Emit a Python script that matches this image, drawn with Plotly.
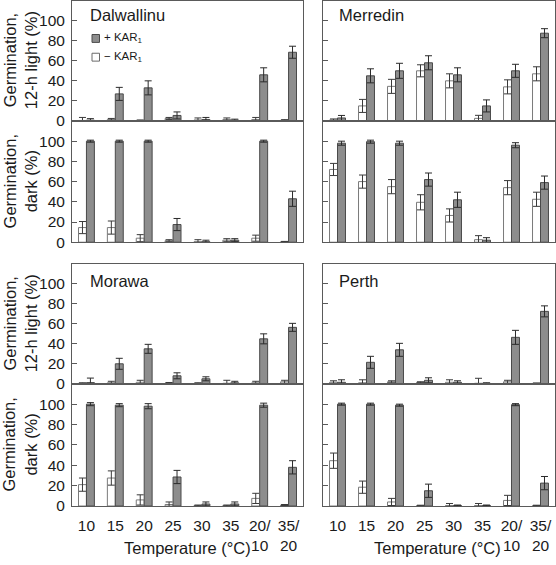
import plotly.graph_objects as go

temps = ["10", "15", "20", "25", "30", "35", "20/10", "35/20"]
tick_text = ["10", "15", "20", "25", "30", "35", "20/<br>10", "35/<br>20"]
y_ticks = [0, 20, 40, 60, 80, 100]

# Dalwallinu
dal_light_minus = [0.5, 1.5, 0.5, 2.5, 1, 1.5, 1.5, 0.8]
dal_light_minus_err = [3, 1, 0.5, 1, 2, 1.5, 2, 0.5]
dal_light_plus = [0.8, 27, 33, 5.5, 1.5, 0.8, 46, 68.5]
dal_light_plus_err = [1.5, 6.5, 7, 3.5, 2, 1, 7, 6]
dal_dark_minus = [14.5, 14.5, 4, 1.5, 0.5, 2, 4, 0.5]
dal_dark_minus_err = [6, 6.5, 3.5, 1, 2, 1.5, 3, 0.3]
dal_dark_plus = [100, 100, 100, 17.5, 0.5, 2, 100, 43]
dal_dark_plus_err = [1, 1, 1, 6, 1.5, 1.5, 1, 7.5]

# Merredin
mer_light_minus = [1, 15, 34.5, 50, 40, 2.6, 34, 47]
mer_light_minus_err = [1, 6.5, 7, 6, 7, 3, 7, 7]
mer_light_plus = [3, 45, 50, 58, 46, 15, 50, 87.5]
mer_light_plus_err = [2.5, 7, 7.5, 7, 7, 6, 6.5, 4.5]
mer_dark_minus = [72, 60, 55, 39.5, 26.5, 2.5, 54, 42.5]
mer_dark_minus_err = [6, 6.5, 7, 7.5, 6.5, 4, 7, 7]
mer_dark_plus = [98, 99.5, 98, 62, 42, 2, 96, 59]
mer_dark_plus_err = [2, 1.5, 2, 6.5, 7.5, 2.5, 2.5, 6.5]

# Morawa
mor_light_minus = [0.5, 1, 1.5, 0.8, 0.5, 0.5, 1, 2]
mor_light_minus_err = [0.5, 1.5, 2, 0.5, 0.5, 3, 1.5, 1.5]
mor_light_plus = [1.2, 20, 35, 8, 5, 1, 45, 56.5]
mor_light_plus_err = [4.5, 5.5, 4.5, 3, 2, 1.5, 5, 4]
mor_dark_minus = [21, 27.5, 6, 1.5, 0.5, 0.5, 7.5, 1]
mor_dark_minus_err = [6.5, 7, 5, 2.5, 0.5, 0.5, 5, 0.5]
mor_dark_plus = [100, 99, 98, 28.5, 2, 2, 99, 38]
mor_dark_plus_err = [1.5, 1.5, 2.5, 6.5, 2, 2, 2, 6.5]

# Perth
per_light_minus = [1.5, 1, 2, 1.5, 1.5, 0.5, 2, 0.5]
per_light_minus_err = [1.5, 3, 1, 0.5, 2.5, 5, 1.5, 0.3]
per_light_plus = [1.5, 21.5, 34, 3.5, 1.5, 0.5, 46.5, 72.5]
per_light_plus_err = [2.5, 6, 6.5, 2.5, 1.5, 0.5, 7, 5.5]
per_dark_minus = [44.5, 18.5, 4, 0.5, 0.5, 0.5, 5.5, 0.5]
per_dark_minus_err = [7.5, 6, 3.5, 0.3, 2, 2, 5, 0.3]
per_dark_plus = [100, 100, 99, 15, 0.5, 0.5, 99.5, 22.5]
per_dark_plus_err = [1, 1, 1, 6.5, 0.5, 0.5, 1, 6.5]

sites = ["Dalwallinu", "Merredin", "Morawa", "Perth"]

W, H = 556, 565
FONT = "Liberation Sans, Arial, Helvetica, sans-serif"
FRAME = "#5a5a5a"

def px_x(p):
    return p / W

def px_y(p):
    return 1 - p / H

x_dom = {"L": [px_x(72), px_x(303)], "R": [px_x(323), px_x(555)]}
y_dom = {
    "top_light": [px_y(122.7), px_y(0.6)],
    "top_dark": [px_y(245.7), px_y(122.7)],
    "bot_light": [px_y(389.3), px_y(267.7)],
    "bot_dark": [px_y(513.3), px_y(389.3)],
}

panels = [
    (1, "L", "top_light", dal_light_minus, dal_light_minus_err, dal_light_plus, dal_light_plus_err),
    (2, "L", "top_dark", dal_dark_minus, dal_dark_minus_err, dal_dark_plus, dal_dark_plus_err),
    (3, "R", "top_light", mer_light_minus, mer_light_minus_err, mer_light_plus, mer_light_plus_err),
    (4, "R", "top_dark", mer_dark_minus, mer_dark_minus_err, mer_dark_plus, mer_dark_plus_err),
    (5, "L", "bot_light", mor_light_minus, mor_light_minus_err, mor_light_plus, mor_light_plus_err),
    (6, "L", "bot_dark", mor_dark_minus, mor_dark_minus_err, mor_dark_plus, mor_dark_plus_err),
    (7, "R", "bot_light", per_light_minus, per_light_minus_err, per_light_plus, per_light_plus_err),
    (8, "R", "bot_dark", per_dark_minus, per_dark_minus_err, per_dark_plus, per_dark_plus_err),
]

fig = go.Figure()
layout = dict(
    width=W, height=H,
    margin=dict(l=0, r=0, t=0, b=0),
    paper_bgcolor="white", plot_bgcolor="white",
    barmode="group", bargap=0.45, bargroupgap=0,
    showlegend=False,
    font=dict(family=FONT, size=15, color="#1a1a1a"),
)

for idx, col, row, mn, mne, pl, ple in panels:
    xa = "x" if idx == 1 else f"x{idx}"
    ya = "y" if idx == 1 else f"y{idx}"
    fig.add_trace(go.Bar(
        x=temps, y=mn, xaxis=xa, yaxis=ya, name="− KAR1",
        marker=dict(color="white", line=dict(color="#7a7a7a", width=1)),
        error_y=dict(type="data", array=mne, color="#3a3a3a", thickness=1, width=3.5),
    ))
    fig.add_trace(go.Bar(
        x=temps, y=pl, xaxis=xa, yaxis=ya, name="+ KAR1",
        marker=dict(color="#8d8d8d", line=dict(color="#4a4a4a", width=1)),
        error_y=dict(type="data", array=ple, color="#2a2a2a", thickness=1, width=3.5),
    ))
    bottom = row == "bot_dark"
    xkey = "xaxis" if idx == 1 else f"xaxis{idx}"
    ykey = "yaxis" if idx == 1 else f"yaxis{idx}"
    layout[xkey] = dict(
        domain=x_dom[col], anchor=ya, type="category",
        categoryorder="array", categoryarray=temps,
        showline=True, linecolor=FRAME, linewidth=1, mirror=True,
        ticks="", showgrid=False, zeroline=False,
        showticklabels=bottom, tickvals=temps, ticktext=tick_text,
        ticklabelstandoff=5,
        tickfont=dict(size=15.5, color="#1a1a1a"),
    )
    layout[ykey] = dict(
        domain=y_dom[row], anchor=xa, range=[0, 120],
        showline=True, linecolor=FRAME, linewidth=1, mirror=True,
        ticks="inside", ticklen=5, tickcolor=FRAME, tickwidth=1,
        tickvals=y_ticks, showgrid=False, zeroline=False,
        showticklabels=(col == "L"), ticklabelstandoff=3,
        tickfont=dict(size=15.5, color="#1a1a1a"),
    )

fig.update_layout(**layout)

annotations = []
title_pos = [(sites[0], 88, 15), (sites[1], 337, 15), (sites[2], 88, 285), (sites[3], 337, 285)]
for name, xp, yp in title_pos:
    annotations.append(dict(text=name, x=px_x(xp), y=px_y(yp), xref="paper", yref="paper",
                            xanchor="left", yanchor="middle", showarrow=False,
                            font=dict(size=16.5, color="#1a1a1a")))
for label, yc in [("Germination,<br>12-h light (%)", 61), ("Germination,<br>dark (%)", 184),
                  ("Germination,<br>12-h light (%)", 328), ("Germination,<br>dark (%)", 451)]:
    annotations.append(dict(text=label, x=px_x(20), y=px_y(yc), xref="paper", yref="paper",
                            xanchor="center", yanchor="middle", showarrow=False, textangle=-90,
                            font=dict(size=16.5, color="#1a1a1a")))
for xc in [187, 437]:
    annotations.append(dict(text="Temperature (°C)", x=px_x(xc), y=px_y(556), xref="paper", yref="paper",
                            xanchor="center", yanchor="middle", showarrow=False,
                            font=dict(size=16.5, color="#1a1a1a")))
legend_items = [("+ KAR<sub>1</sub>", "#8d8d8d", "#4a4a4a", 39), ("− KAR<sub>1</sub>", "white", "#6a6a6a", 58)]
shapes = []
for txt, fill, line, yc in legend_items:
    shapes.append(dict(type="rect", xref="paper", yref="paper",
                       x0=px_x(92), x1=px_x(99.5), y0=px_y(yc + 4), y1=px_y(yc - 4),
                       fillcolor=fill, line=dict(color=line, width=1)))
    annotations.append(dict(text=txt, x=px_x(102), y=px_y(yc), xref="paper", yref="paper",
                            xanchor="left", yanchor="middle", showarrow=False,
                            font=dict(size=11.5, color="#1a1a1a")))

fig.update_layout(annotations=annotations, shapes=shapes)
fig.write_html("out.html", config={"displayModeBar": False},
               post_script="document.body.style.margin='0px';document.body.style.overflow='hidden';")
